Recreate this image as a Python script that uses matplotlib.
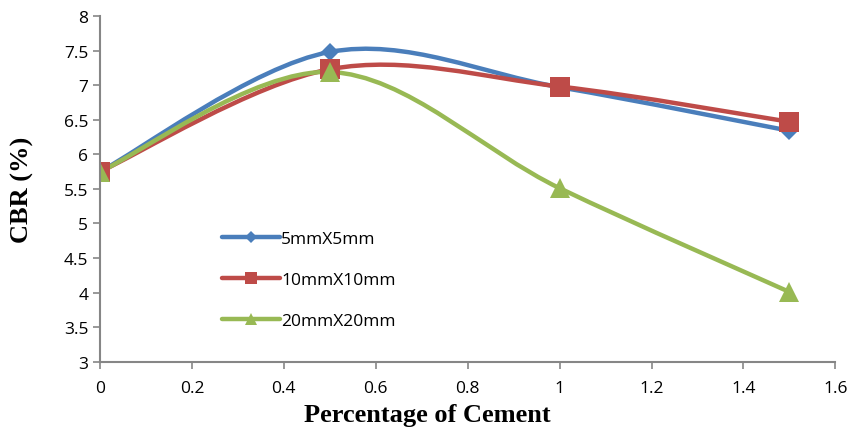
import numpy as np
import matplotlib
matplotlib.use("Agg")
import matplotlib.pyplot as plt
from matplotlib.path import Path
from matplotlib.patches import PathPatch
from matplotlib.lines import Line2D

# cement content (%) and CBR (%) per geogrid aperture
cement = [0, 0.5, 1, 1.5]
cbr_5 = [5.75, 7.48, 6.97, 6.34]
cbr_10 = [5.75, 7.23, 6.98, 6.47]
cbr_20 = [5.75, 7.19, 5.51, 4.01]
labels = ["5mmX5mm", "10mmX10mm", "20mmX20mm"]

COLORS = ["#4a7ebb", "#be4b48", "#98b954"]
MARKERS = ["D", "s", "^"]
MSIZES = [9, 14, 15]
LEG_MSIZES = [6, 9, 9]
GRAY = "#868686"
TICKFONT = ["Open Sans", "DejaVu Sans"]


def smooth_path(xs, ys):
    # Excel-like smoothed line: cubic Bezier through the points (Catmull-Rom controls)
    pts = np.column_stack([xs, ys]).astype(float)
    n = len(pts)
    verts = [pts[0]]
    codes = [Path.MOVETO]
    for i in range(n - 1):
        p0 = pts[i - 1] if i > 0 else pts[i]
        p1, p2 = pts[i], pts[i + 1]
        p3 = pts[i + 2] if i + 2 < n else pts[i + 1]
        c1 = p1 + (p2 - p0) / 6.0
        c2 = p2 - (p3 - p1) / 6.0
        verts += [c1, c2, p2]
        codes += [Path.CURVE4] * 3
    return Path(verts, codes)


fig = plt.figure(figsize=(8.55, 4.35), dpi=100)
ax = fig.add_axes([0.117, 0.166, 0.86, 0.795])

for ys, col, mk, ms in zip([cbr_5, cbr_10, cbr_20], COLORS, MARKERS, MSIZES):
    ax.add_patch(PathPatch(smooth_path(cement, ys), fill=False, edgecolor=col,
                           lw=3.2, capstyle="round", joinstyle="round"))
    ax.plot(cement, ys, ls="none", marker=mk, ms=ms, color=col, mec=col, mew=0)

ax.set_xlim(0, 1.6)
ax.set_ylim(3, 8)
ax.set_xticks(np.arange(0, 1.61, 0.2))
ax.set_xticklabels(["0", "0.2", "0.4", "0.6", "0.8", "1", "1.2", "1.4", "1.6"])
ax.set_yticks(np.arange(3, 8.01, 0.5))
ax.set_yticklabels(["3", "3.5", "4", "4.5", "5", "5.5", "6", "6.5", "7", "7.5", "8"])
for lab in ax.get_xticklabels() + ax.get_yticklabels():
    lab.set_family(TICKFONT)
    lab.set_fontsize(12.5)
ax.tick_params(axis="both", colors=GRAY, labelcolor="black", length=5, width=1.2)
ax.tick_params(axis="x", pad=8)
for s in ["top", "right"]:
    ax.spines[s].set_visible(False)
for s in ["left", "bottom"]:
    ax.spines[s].set_color(GRAY)
    ax.spines[s].set_linewidth(1.5)

ax.set_xlabel("Percentage of Cement", family="Liberation Serif", fontweight="bold",
              fontsize=19, labelpad=0)
ax.xaxis.set_label_coords(0.445, -0.12)
ax.set_ylabel("CBR (%)", family="Liberation Serif", fontweight="bold", fontsize=19)
ax.yaxis.set_label_coords(-0.09, 0.5)

handles = [Line2D([], [], color=c, lw=3.2, marker=m, ms=s, mew=0, solid_capstyle="round")
           for c, m, s in zip(COLORS, MARKERS, LEG_MSIZES)]
leg = ax.legend(handles, labels, loc="upper left", bbox_to_anchor=(0.145, 0.425),
                frameon=False, handlelength=3.3, labelspacing=1.45, handletextpad=0.1,
                prop={"family": TICKFONT, "size": 12.5})

fig.savefig("out.png", dpi=100, facecolor="white")
